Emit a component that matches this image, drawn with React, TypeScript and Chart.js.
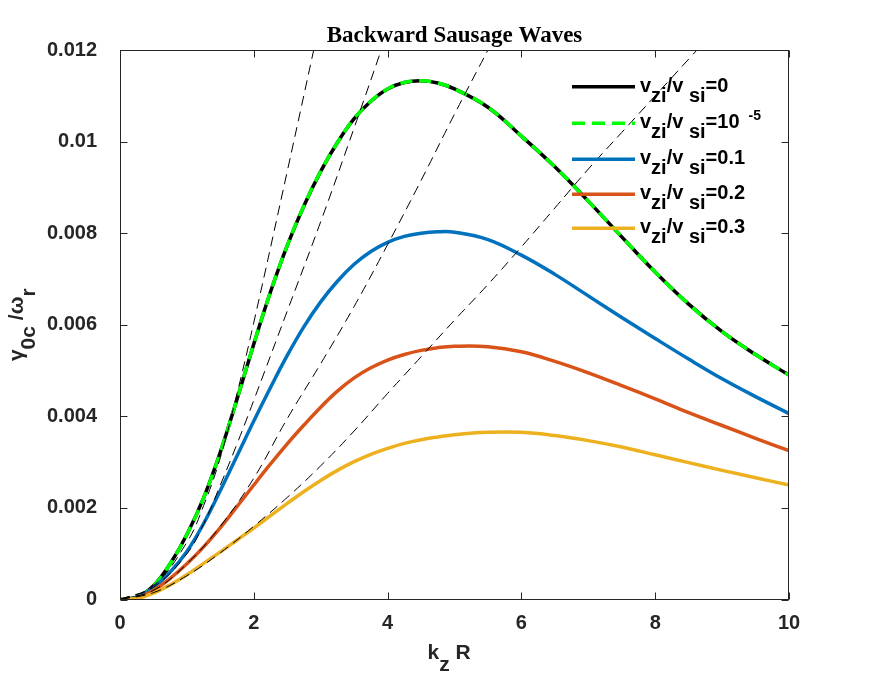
import { Chart, registerables } from 'chart.js';
import React, { useEffect, useRef } from 'react';

Chart.register(...registerables);

// k_z R sample points
const kzR = [0, 0.25, 0.5, 0.75, 1, 1.25, 1.5, 1.75, 2, 2.25, 2.5, 2.75, 3, 3.25, 3.5, 3.75, 4, 4.25, 4.5, 4.75, 5, 5.5, 6, 6.5, 7, 7.5, 8, 8.5, 9, 9.5, 10];

// growth rates in units of 1e-3
const gammaV0 = [0, 0.05, 0.3, 0.78, 1.42, 2.22, 3.22, 4.38, 5.58, 6.72, 7.73, 8.6, 9.35, 9.98, 10.5, 10.88, 11.15, 11.29, 11.33, 11.28, 11.15, 10.75, 10.12, 9.45, 8.7, 7.92, 7.15, 6.45, 5.85, 5.35, 4.9];
const gammaV1e5 = [0, 0.05, 0.3, 0.78, 1.42, 2.22, 3.22, 4.38, 5.58, 6.72, 7.73, 8.6, 9.35, 9.98, 10.5, 10.88, 11.15, 11.29, 11.33, 11.28, 11.15, 10.75, 10.12, 9.45, 8.7, 7.92, 7.15, 6.45, 5.85, 5.35, 4.9];
const gammaV01 = [0, 0.04, 0.26, 0.6, 1.05, 1.66, 2.38, 3.14, 3.9, 4.63, 5.33, 5.96, 6.5, 6.95, 7.32, 7.6, 7.8, 7.93, 8.0, 8.03, 8.02, 7.86, 7.52, 7.1, 6.63, 6.16, 5.7, 5.25, 4.82, 4.43, 4.06];
const gammaV02 = [0, 0.03, 0.2, 0.46, 0.78, 1.15, 1.57, 2.03, 2.5, 2.96, 3.4, 3.81, 4.2, 4.55, 4.84, 5.06, 5.23, 5.35, 5.44, 5.5, 5.53, 5.52, 5.41, 5.2, 4.95, 4.67, 4.38, 4.08, 3.8, 3.52, 3.25];
const gammaV03 = [0, 0.02, 0.14, 0.32, 0.54, 0.79, 1.04, 1.3, 1.56, 1.83, 2.1, 2.36, 2.6, 2.82, 3.01, 3.17, 3.3, 3.41, 3.49, 3.55, 3.6, 3.65, 3.65, 3.58, 3.47, 3.33, 3.16, 2.99, 2.82, 2.66, 2.5];

// thin dashed approximations
const approxAx = [0, 0.5, 1, 1.25, 1.5, 1.75, 2, 2.5, 3];
const approxAy = [0, 0.3, 1.25, 2.05, 3.1, 4.5, 6.05, 9.35, 12.7];
const approxBx = [0, 0.5, 1, 1.25, 1.5, 1.75, 2, 2.5, 3, 3.5, 4];
const approxBy = [0, 0.27, 1.0, 1.65, 2.5, 3.4, 4.35, 6.3, 8.25, 10.3, 12.4];
const approxCx = [0, 0.5, 1, 1.5, 2, 2.5, 3, 3.5, 4, 4.5, 5, 5.5, 5.75];
const approxCy = [0, 0.2, 0.78, 1.6, 2.65, 3.95, 5.15, 6.4, 7.75, 9.15, 10.6, 12.0, 12.7];
const approxDx = [0, 0.5, 1, 1.5, 2, 2.5, 3, 3.5, 4, 4.5, 5, 5.5, 6, 6.5, 7, 7.5, 8, 8.5, 9];
const approxDy = [0, 0.15, 0.52, 1.02, 1.6, 2.23, 2.92, 3.68, 4.5, 5.3, 6.1, 6.88, 7.7, 8.55, 9.4, 10.2, 11.0, 11.8, 12.6];

const xTicks = [0, 2, 4, 6, 8, 10];
const yTicks = [0, 0.002, 0.004, 0.006, 0.008, 0.01, 0.012];

const legendValues = ['=0', '=10', '=0.1', '=0.2', '=0.3'];
const legendExponents = ['', '-5', '', '', ''];
const legendColors = ['#000000', '#00ff00', '#0072bd', '#d95319', '#edb120'];
const legendDashed = [false, true, false, false, false];

const AXIS = '#262626';
const SANS = '"Liberation Sans", Arial, sans-serif';
const SUP_GAP = 9;

const toPoints = (xs: number[], ys: number[]) => xs.map((x, i) => ({ x, y: ys[i] * 1e-3 }));

type Part = [string, number]; // 0 normal, 1 subscript, 2 superscript

function richWidth(ctx: CanvasRenderingContext2D, parts: Part[], size: number, supSize: number) {
  let w = 0;
  for (const [t, k] of parts) {
    ctx.font = `bold ${k === 2 ? supSize : size}px ${SANS}`;
    w += ctx.measureText(t).width + (k === 2 ? SUP_GAP : 0);
  }
  return w;
}

function drawRich(ctx: CanvasRenderingContext2D, parts: Part[], x: number, y: number, size: number, subShift: number, supSize = 14) {
  let cx = x;
  ctx.textAlign = 'left';
  ctx.textBaseline = 'alphabetic';
  for (const [t, k] of parts) {
    ctx.font = `bold ${k === 2 ? supSize : size}px ${SANS}`;
    if (k === 2) cx += SUP_GAP;
    const dy = k === 1 ? subShift : k === 2 ? -8 : 0;
    ctx.fillText(t, cx, y + dy);
    cx += ctx.measureText(t).width;
  }
}

const overlay = {
  id: 'overlay',
  afterDraw(chart: Chart) {
    const { ctx, chartArea } = chart;
    const { left, right, top, bottom } = chartArea;
    const xs = chart.scales.x;
    const ys = chart.scales.y;
    ctx.save();

    // axes box and inward ticks
    ctx.strokeStyle = AXIS;
    ctx.lineWidth = 1;
    ctx.setLineDash([]);
    const L = Math.round(left) + 0.5;
    const R = Math.round(right) - 0.5;
    const T = Math.round(top) + 0.5;
    const B = Math.round(bottom) - 0.5;
    ctx.strokeRect(L, T, R - L, B - T);
    ctx.beginPath();
    for (const v of xTicks) {
      const px = Math.round(xs.getPixelForValue(v)) + 0.5;
      ctx.moveTo(px, B);
      ctx.lineTo(px, B - 7);
      ctx.moveTo(px, T);
      ctx.lineTo(px, T + 7);
    }
    for (const v of yTicks) {
      const py = Math.round(ys.getPixelForValue(v)) + 0.5;
      ctx.moveTo(L, py);
      ctx.lineTo(L + 7, py);
      ctx.moveTo(R, py);
      ctx.lineTo(R - 7, py);
    }
    ctx.stroke();

    // title
    ctx.fillStyle = '#000';
    ctx.font = 'bold 23px "Liberation Serif", "Times New Roman", serif';
    ctx.textAlign = 'center';
    ctx.textBaseline = 'alphabetic';
    ctx.fillText('Backward Sausage Waves', (left + right) / 2, 41.7);

    // axis labels
    ctx.fillStyle = AXIS;
    drawRich(ctx, [['k', 0], ['z', 1], [' R', 0]], 427.5, 659.3, 21, 12);
    const yParts: Part[] = [['γ', 0], ['0c', 1], [' /ω', 0], ['r', 1]];
    const yw = richWidth(ctx, yParts, 21, 14);
    ctx.save();
    ctx.translate(23, (top + bottom) / 2);
    ctx.rotate(-Math.PI / 2);
    drawRich(ctx, yParts, -yw / 2, 0, 21, 12);
    ctx.restore();

    // legend
    const rows = [86.7, 123.3, 159.3, 194.3, 228.3];
    rows.forEach((ry, i) => {
      ctx.strokeStyle = legendColors[i];
      ctx.lineWidth = 3.5;
      ctx.setLineDash(legendDashed[i] ? [13, 7] : []);
      ctx.beginPath();
      ctx.moveTo(572, ry);
      ctx.lineTo(635, ry);
      ctx.stroke();
      ctx.fillStyle = '#000';
      const parts: Part[] = [['v', 0], ['zi', 1], ['/v', 0], [' si', 1], [legendValues[i], 0]];
      if (legendExponents[i]) parts.push([legendExponents[i], 2]);
      drawRich(ctx, parts, 640, ry + 5, 20, 10);
    });
    ctx.restore();
  },
};

export default function App() {
  const canvasRef = useRef<HTMLCanvasElement | null>(null);

  useEffect(() => {
    const canvas = canvasRef.current;
    if (!canvas) return;

    const solid = (data: { x: number; y: number }[], color: string, order: number) => ({
      data,
      borderColor: color,
      borderWidth: 3.5,
      pointRadius: 0,
      tension: 0.4,
      order,
    });
    const approx = (data: { x: number; y: number }[]) => ({
      data,
      borderColor: '#000',
      borderWidth: 1,
      borderDash: [10, 6],
      pointRadius: 0,
      tension: 0.4,
      order: 0,
    });

    const chart = new Chart(canvas, {
      type: 'line',
      data: {
        datasets: [
          solid(toPoints(kzR, gammaV0), '#000000', 5),
          { ...solid(toPoints(kzR, gammaV1e5), '#00ff00', 4), borderDash: [12, 7] },
          solid(toPoints(kzR, gammaV01), '#0072bd', 3),
          solid(toPoints(kzR, gammaV02), '#d95319', 2),
          solid(toPoints(kzR, gammaV03), '#edb120', 1),
          approx(toPoints(approxAx, approxAy)),
          approx(toPoints(approxBx, approxBy)),
          approx(toPoints(approxCx, approxCy)),
          approx(toPoints(approxDx, approxDy)),
        ],
      },
      options: {
        animation: false,
        responsive: false,
        layout: { padding: { left: 0, right: 83, top: 50, bottom: 0 } },
        plugins: { legend: { display: false }, tooltip: { enabled: false } },
        scales: {
          x: {
            type: 'linear',
            min: 0,
            max: 10,
            afterBuildTicks: (scale) => {
              scale.ticks = xTicks.map((value) => ({ value }));
            },
            afterFit: (scale) => {
              scale.height = 76.5;
            },
            grid: { display: false, drawTicks: false },
            border: { display: false },
            ticks: {
              padding: 12,
              color: AXIS,
              font: { family: SANS, size: 20, weight: 'bold' },
              maxRotation: 0,
            },
          },
          y: {
            type: 'linear',
            min: 0,
            max: 0.012,
            afterBuildTicks: (scale) => {
              scale.ticks = yTicks.map((value) => ({ value }));
            },
            afterFit: (scale) => {
              scale.width = 120;
            },
            grid: { display: false, drawTicks: false },
            border: { display: false },
            ticks: {
              padding: 23,
              color: AXIS,
              font: { family: SANS, size: 20, weight: 'bold' },
              callback: (v) => String(+Number(v).toFixed(4)),
            },
          },
        },
      },
      plugins: [overlay],
    });

    return () => {
      chart.destroy();
    };
  }, []);

  return (
    <div style={{ position: 'absolute', left: 0, top: 0, width: 872, height: 676, background: '#fff' }}>
      <canvas ref={canvasRef} width={872} height={676} />
    </div>
  );
}
